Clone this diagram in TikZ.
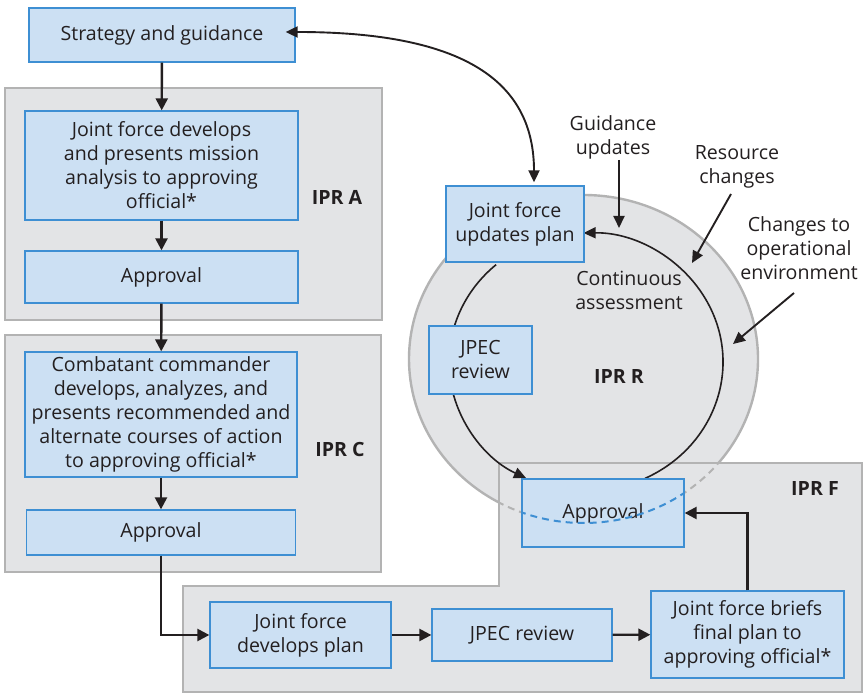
\documentclass[tikz,border=0pt]{standalone}
\usepackage{fontspec}
\setmainfont{Open Sans}
\usetikzlibrary{arrows.meta}
\definecolor{boxfill}{HTML}{CCE0F3}
\definecolor{boxline}{HTML}{3E8FD3}
\definecolor{panelfill}{HTML}{E3E4E6}
\definecolor{panelline}{HTML}{B3B3B3}
\definecolor{ink}{HTML}{231F20}
\begin{document}
\begin{tikzpicture}[x=1pt,y=1pt,
  font=\fontsize{19.6}{24}\selectfont,
  every node/.style={text=ink},
  blk/.style={draw=boxline, fill=boxfill, line width=1.3pt, align=center, inner sep=0pt},
  lbl/.style={align=center, inner sep=0pt},
  ipr/.style={font=\fontsize{19.6}{24}\selectfont\bfseries, inner sep=0pt},
  panel/.style={fill=panelfill, draw=panelline, line width=2.4pt},
  tip/.style={-{Triangle[length=12pt,width=12pt]}},
  flow/.style={draw=ink, line width=2.4pt, tip},
  cyc/.style={draw=ink, line width=1.6pt, -{Triangle[length=12pt,width=11pt]}},
  ext/.style={draw=ink, line width=1.9pt, -{Triangle[length=12pt,width=11pt]}}]
\useasboundingbox (0,0) rectangle (864,695);

% review panels on the left
\path[panel] (5,607) rectangle (382,375);
\path[panel] (5,360) rectangle (381,123);

% continuous assessment disc
\coordinate (oc) at (583.5,336);
\coordinate (ic) at (586,333);
\path[panel] (oc) ellipse[x radius=174.5, y radius=164];

% final review panel (stepped outline)
\path[panel] (183,109) -- (499,109) -- (499,232) -- (862,232) -- (862,3) -- (183,3) -- cycle;
\begin{scope}
  \clip (499,3) rectangle (862,232);
  \draw[panelline, line width=2pt, dash pattern=on 7pt off 5pt] (oc) ellipse[x radius=174.5, y radius=164];
\end{scope}

% assessment cycle
\draw[cyc] (ic) ++(-64.5:137 and 129) arc[start angle=-64.5, end angle=91, x radius=137, y radius=129];
\draw[cyc] (ic) ++(131:137 and 129) arc[start angle=131, end angle=244, x radius=137, y radius=129];

% process boxes
\node[blk, minimum width=266pt, minimum height=54pt] (strat) at (162,660) {Strategy and guidance};
\node[blk, minimum width=273pt, minimum height=109pt] (jfdev) at (161.5,529.5) {Joint force develops\\and presents mission\\analysis to approving\\official*};
\node[blk, minimum width=273pt, minimum height=52pt] (apprA) at (161.5,418) {Approval};
\node[blk, minimum width=272pt, minimum height=125pt] (ccdev) at (161,280.5) {Combatant commander\\develops, analyzes, and\\presents recommended and\\alternate courses of action\\to approving official*};
\node[blk, minimum width=269pt, minimum height=45pt] (apprC) at (161,162.5) {Approval};
\node[blk, minimum width=181pt, minimum height=66pt] (devplan) at (300.5,60) {Joint force\\develops plan};
\node[blk, minimum width=180pt, minimum height=52pt] (jpecB) at (522,60) {JPEC review};
\node[blk, minimum width=193pt, minimum height=87pt] (brief) at (747.5,60.5) {Joint force briefs\\final plan to\\approving official*};
\node[blk, minimum width=162pt, minimum height=68pt] (apprF) at (603,182) {Approval};
\node[blk, minimum width=138pt, minimum height=76pt] (upd) at (515,471) {Joint force\\updates plan};
\node[blk, minimum width=103pt, minimum height=68pt] (jpecR) at (480.5,335) {JPEC\\review};

% disc outline where it crosses the approval box
\begin{scope}
  \clip (apprF.south west) rectangle (apprF.north east);
  \draw[boxline, line width=2pt, dash pattern=on 7pt off 5pt] (oc) ellipse[x radius=174.5, y radius=164];
\end{scope}

% panel titles and free labels
\node[ipr] (ipra) at (337,498) {IPR A};
\node[ipr] (iprc) at (340,245) {IPR C};
\node[ipr] (iprr) at (619,318) {IPR R};
\node[ipr] (iprf) at (815,206) {IPR F};
\node[lbl] (cont) at (629,405) {Continuous\\assessment};
\node[lbl] (guid) at (613,558) {Guidance\\updates};
\node[lbl] (res) at (737,528) {Resource\\changes};
\node[lbl] (chg) at (799,447) {Changes to\\operational\\environment};

% main flow
\draw[flow] (strat) -- (jfdev);
\draw[flow] (jfdev) -- (apprA);
\draw[flow] (apprA) -- (ccdev);
\draw[flow] (ccdev) -- (apprC);
\draw[flow] (apprC.south) |- (devplan.west);
\draw[flow] (devplan) -- (jpecB);
\draw[flow] (jpecB) -- (brief);
\draw[flow] (brief.north) |- (apprF.east);

% link between strategy and plan updates
\draw[ext, {Triangle[length=12pt,width=11pt]}-{Triangle[length=12pt,width=11pt]}]
  ([xshift=-10pt,yshift=3pt]strat.east) .. controls +(180,0) and +(0,100) .. ([xshift=19pt,yshift=3pt]upd.north);

% external inputs
\coordinate (g1) at (619,535); \coordinate (g2) at (619,467);
\coordinate (r1) at (731,501); \coordinate (r2) at (692,432);
\coordinate (c1) at (794,402); \coordinate (c2) at (733,351);
\draw[ext] (g1) -- (g2);
\draw[ext] (r1) -- (r2);
\draw[ext] (c1) -- (c2);
\end{tikzpicture}
\end{document}
